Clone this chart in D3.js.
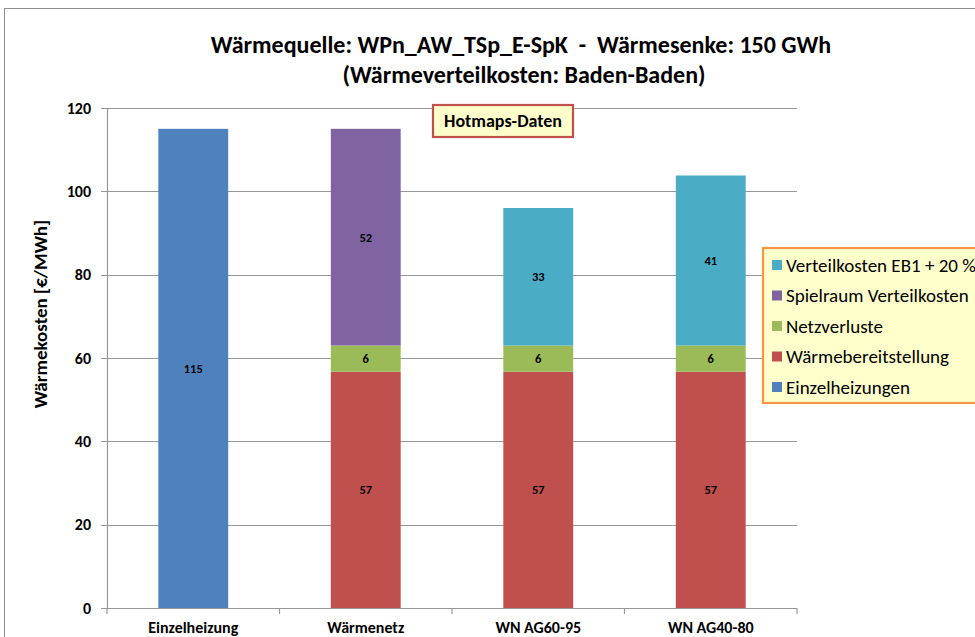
<!DOCTYPE html>
<html><head><meta charset="utf-8">
<script src="https://cdn.jsdelivr.net/npm/d3@7"></script>
<style>
body{margin:0;background:#fff;}
text{font-family:Carlito,"Open Sans","Noto Sans",sans-serif;white-space:pre;}
</style></head><body>
<svg id="c" width="975" height="637"></svg>
<script>
const categories = ["Einzelheizung","Wärmenetz","WN AG60-95","WN AG40-80"];
const seriesNames = ["Einzelheizungen","Wärmebereitstellung","Netzverluste","Spielraum Verteilkosten","Verteilkosten EB1 + 20 %"];
const einzelheizungen = [115, 0, 0, 0];
const waermebereitstellung = [0, 56.7, 56.7, 56.7];
const netzverluste = [0, 6.3, 6.3, 6.3];
const spielraum = [0, 52, 0, 0];
const verteilkosten = [0, 0, 33, 40.8];
const yTicks = [0,20,40,60,80,100,120];
const colors = ["#4F81BD","#C0504D","#9BBB59","#8064A2","#4BACC6"];
const seriesData = [einzelheizungen, waermebereitstellung, netzverluste, spielraum, verteilkosten];

const svg = d3.select("#c");
const m = {l:107, r:797, t:108, b:608};

// outer chart border
svg.append("rect").attr("x",4.5).attr("y",8.5).attr("width",1000).attr("height",700)
  .attr("fill","none").attr("stroke","#8c8c8c").attr("stroke-width",1);

const x = d3.scaleBand().domain(categories).range([m.l,m.r]).paddingInner(0.595).paddingOuter(0.2975);
const y = d3.scaleLinear().domain([0,120]).range([m.b,m.t]);

// gridlines
svg.append("g").selectAll("line").data(yTicks).join("line")
  .attr("x1",m.l-6).attr("x2",m.r).attr("y1",d=>Math.round(y(d))+0.5).attr("y2",d=>Math.round(y(d))+0.5)
  .attr("stroke","#979797").attr("stroke-width",1.2);

// stacked bars
const rows = categories.map((c,i)=>{const o={cat:c}; seriesNames.forEach((s,j)=>o[s]=seriesData[j][i]); return o;});
const stack = d3.stack().keys(seriesNames)(rows);
const g = svg.append("g");
stack.forEach((layer,j)=>{
  layer.forEach((d,i)=>{
    const v = d[1]-d[0];
    if(v<=0) return;
    g.append("rect").attr("x",x(categories[i])).attr("width",x.bandwidth())
      .attr("y",y(d[1])).attr("height",y(d[0])-y(d[1])).attr("fill",colors[j]);
    g.append("text").attr("x",x(categories[i])+x.bandwidth()/2).attr("y",(y(d[0])+y(d[1]))/2)
      .attr("dy","0.35em").attr("text-anchor","middle").attr("font-size",12.5).attr("font-weight","bold")
      .attr("fill","#000").text(Math.round(v));
  });
});

// y axis line
svg.append("line").attr("x1",m.l+0.5).attr("x2",m.l+0.5).attr("y1",m.t).attr("y2",m.b+1).attr("stroke","#979797").attr("stroke-width",1.2);
// x axis line
svg.append("line").attr("x1",m.l).attr("x2",m.r).attr("y1",m.b+0.5).attr("y2",m.b+0.5).attr("stroke","#979797").attr("stroke-width",1.2);
// x ticks between categories
const xt = [m.l].concat(categories.map(c=>x(c)+x.bandwidth()/2+x.step()/2));
svg.append("g").selectAll("line").data(xt).join("line")
  .attr("x1",d=>d).attr("x2",d=>d).attr("y1",m.b).attr("y2",m.b+6).attr("stroke","#979797").attr("stroke-width",1.2);

// y tick labels
svg.append("g").selectAll("text").data(yTicks).join("text")
  .attr("x",91).attr("y",d=>y(d)).attr("dy","0.35em").attr("text-anchor","end")
  .attr("font-size",16).attr("font-weight","bold").text(d=>d);
// x labels
svg.append("g").selectAll("text").data(categories).join("text")
  .attr("x",d=>x(d)+x.bandwidth()/2).attr("y",627).attr("dy","0.35em").attr("text-anchor","middle")
  .attr("font-size",16).attr("font-weight","bold").text(d=>d);

// y axis title
svg.append("text").attr("transform","translate(40,314) rotate(-90)").attr("text-anchor","middle")
  .attr("dy","0.35em").attr("font-size",19).attr("font-weight","bold").text("Wärmekosten [€/MWh]");

// title
svg.append("text").attr("x",521).attr("y",45).attr("dy","0.35em").attr("text-anchor","middle")
  .attr("font-size",24).attr("font-weight","bold").text("Wärmequelle: WPn_AW_TSp_E-SpK  -  Wärmesenke: 150 GWh");
svg.append("text").attr("x",524).attr("y",75).attr("dy","0.35em").attr("text-anchor","middle")
  .attr("font-size",24).attr("font-weight","bold").text("(Wärmeverteilkosten: Baden-Baden)");

// Hotmaps box
svg.append("rect").attr("x",433).attr("y",105).attr("width",140).attr("height",32)
  .attr("fill","#FFFFCC").attr("stroke","#C0504D").attr("stroke-width",2.2);
svg.append("text").attr("x",503).attr("y",121).attr("dy","0.35em").attr("text-anchor","middle")
  .attr("font-size",18).attr("font-weight","bold").text("Hotmaps-Daten");

// legend
const lg = svg.append("g");
lg.append("rect").attr("x",763).attr("y",248).attr("width",260).attr("height",155)
  .attr("fill","#FFFFCC").attr("stroke","#F79646").attr("stroke-width",2.2);
const legendOrder = [4,3,2,1,0];
legendOrder.forEach((j,k)=>{
  const yy = 265 + k*30.5;
  lg.append("rect").attr("x",772).attr("y",yy-5).attr("width",10).attr("height",10).attr("fill",colors[j]);
  lg.append("text").attr("x",786).attr("y",yy).attr("dy","0.35em").attr("font-size",19).text(seriesNames[j]);
});
</script>
</body></html>
